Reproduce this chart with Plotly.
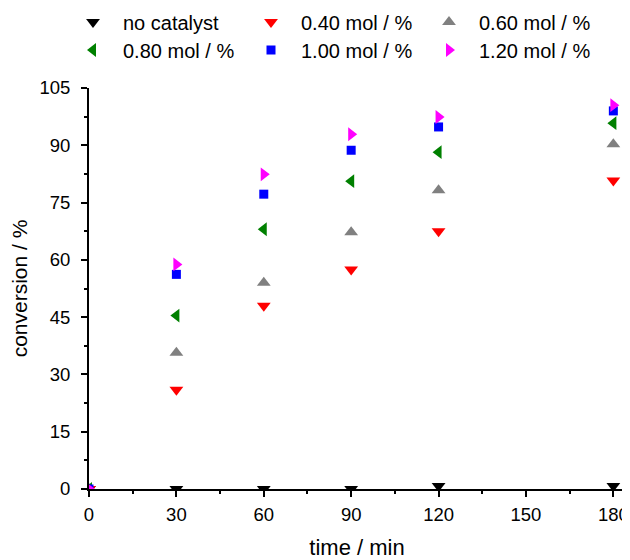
import plotly.graph_objects as go

time = [0, 30, 60, 90, 120, 180]
no_catalyst = [0, 0, 0, 0, 0.8, 0.8]
mol_040 = [0, 26.0, 48.0, 57.5, 67.5, 80.8]
mol_060 = [0, 35.7, 54.0, 67.2, 78.2, 90.3]
mol_080 = [0, 45.4, 68.0, 80.6, 88.2, 95.8]
mol_100 = [0, 56.2, 77.2, 88.7, 94.8, 99.0]
mol_120 = [0, 58.8, 82.4, 92.9, 97.4, 100.5]

series = [
    ("no catalyst", no_catalyst, "triangle-down", "black", "legend", 12),
    ("0.40 mol / %", mol_040, "triangle-down", "red", "legend", 12),
    ("0.60 mol / %", mol_060, "triangle-up", "gray", "legend", 12),
    ("0.80 mol / %", mol_080, "triangle-left", "green", "legend2", 12),
    ("1.00 mol / %", mol_100, "square", "blue", "legend2", 9),
    ("1.20 mol / %", mol_120, "triangle-right", "magenta", "legend2", 12),
]

fig = go.Figure()
for name, vals, sym, col, leg, sz in series:
    fig.add_trace(go.Scatter(
        x=time, y=vals, mode="markers", name=name, legend=leg,
        marker=dict(symbol=sym, color=col, size=sz, line=dict(width=0)),
    ))

W, H = 622, 552  # page body has an 8px margin, so the figure is offset by 8px
font = dict(family="Liberation Sans, Arial, sans-serif", size=18, color="black")
legfont = dict(family="Liberation Sans, Arial, sans-serif", size=20, color="black")
legcommon = dict(orientation="h", xanchor="left", yanchor="middle",
                 entrywidth=113, entrywidthmode="pixels", itemwidth=50,
                 font=legfont, bgcolor="rgba(0,0,0,0)", traceorder="normal",
                 xref="container", yref="container")

fig.update_layout(
    width=W, height=H,
    margin=dict(l=81, r=5, t=80, b=71),
    plot_bgcolor="white", paper_bgcolor="white",
    font=font,
    legend=dict(x=55 / W, y=1 - 14 / H, **legcommon),
    legend2=dict(x=55 / W, y=1 - 42 / H, **legcommon),
    xaxis=dict(
        range=[0, 184], tickvals=[0, 30, 60, 90, 120, 150, 180],
        showgrid=False, zeroline=False, showline=True, linecolor="black", linewidth=2,
        ticks="outside", ticklen=6, tickwidth=2, tickcolor="black",
        ticklabelstandoff=2, automargin=False,
        minor=dict(tickvals=[15, 45, 75, 105, 135, 165], ticks="outside", ticklen=3, tickwidth=2, tickcolor="black"),
        title=dict(text="time / min", font=dict(size=22), standoff=17),
        tickfont=dict(size=18.5),
    ),
    yaxis=dict(
        range=[0, 105], tickvals=[0, 15, 30, 45, 60, 75, 90, 105],
        showgrid=False, zeroline=False, showline=True, linecolor="black", linewidth=2,
        ticks="outside", ticklen=6, tickwidth=2, tickcolor="black",
        ticklabelstandoff=7, automargin=False,
        minor=dict(tickvals=[7.5, 22.5, 37.5, 52.5, 67.5, 82.5, 97.5], ticks="outside", ticklen=3, tickwidth=2, tickcolor="black"),
        title=dict(text="conversion / %", font=dict(size=21), standoff=7),
        tickfont=dict(size=18.5),
    ),
)

fig.write_html("out.html")
